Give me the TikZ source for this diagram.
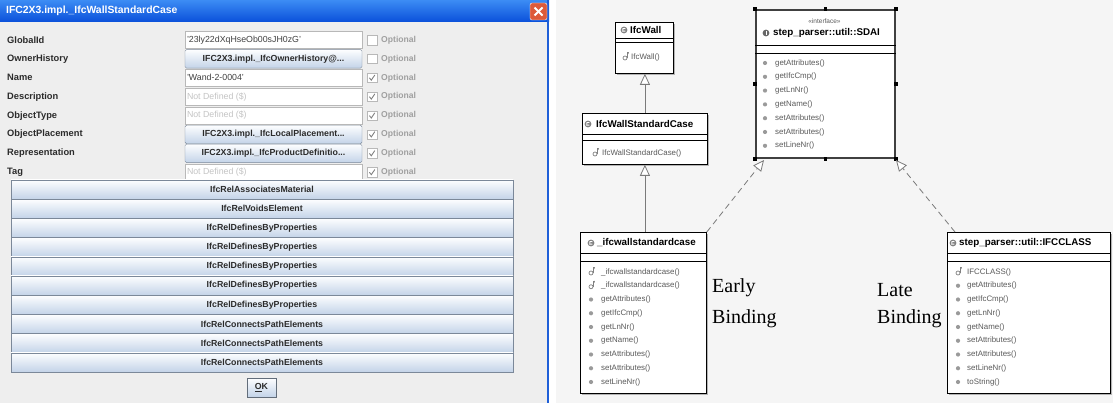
\documentclass[tikz,border=0pt]{standalone}
\usepackage{fontspec}
\setmainfont{Liberation Sans}
\newfontfamily\serifx{Liberation Serif}
\usetikzlibrary{arrows.meta,calc,shadows}
\definecolor{dlgbg}{HTML}{EEEEEE}
\definecolor{fldbd}{HTML}{B8B8B8}
\definecolor{btnbd}{HTML}{7B8899}
\definecolor{btntop}{HTML}{FDFEFF}
\definecolor{btnbot}{HTML}{C3D3E8}
\definecolor{lbltx}{HTML}{2B2B2B}
\definecolor{opttx}{HTML}{A0A0A0}
\definecolor{ndtx}{HTML}{C4C4C4}
\definecolor{titletop}{HTML}{3C8CF4}
\definecolor{titlebot}{HTML}{0A50DA}
\definecolor{xpblue}{HTML}{1F5FD8}
\definecolor{closered}{HTML}{DD5A3A}
\definecolor{rightbg}{HTML}{F5F5F5}
\definecolor{methtx}{HTML}{5A5A5A}
\definecolor{icongray}{HTML}{808080}
\definecolor{linegray}{HTML}{7A7A7A}
\tikzset{
  lbl/.style={anchor=west, inner sep=0, text=lbltx, font=\fontsize{9.3}{10}\selectfont\bfseries},
  fld/.style={draw=fldbd, fill=white, minimum width=177, minimum height=17, inner sep=0},
  fldtx/.style={anchor=west, inner sep=0, font=\fontsize{8.8}{10}\selectfont},
  fbtn/.style={draw=btnbd, rounded corners=1.5, top color=btntop, bottom color=btnbot, minimum width=177, minimum height=18.5, inner sep=0, text=lbltx, font=\fontsize{8.8}{10}\selectfont\bfseries},
  bigbtn/.style={draw=btnbd, top color=btntop, bottom color=btnbot, minimum width=502, minimum height=19.2, inner sep=0, text=lbltx, font=\fontsize{8.8}{10}\selectfont\bfseries},
  chk/.style={draw=fldbd, fill=white, minimum size=9.5, inner sep=0},
  opt/.style={anchor=west, inner sep=0, text=opttx, font=\fontsize{8.6}{10}\selectfont\bfseries},
  chkmark/.style={draw=gray, line width=0.9},
  umlbox/.style={draw=black, fill=white, line width=0.8, inner sep=0, anchor=north west, drop shadow={shadow xshift=1.5pt, shadow yshift=-1.5pt, fill=gray, opacity=0.55}},
  sdaibox/.style={draw=black!75, fill=white, line width=2, inner sep=0, anchor=north west},
  cname/.style={anchor=west, inner sep=0, font=\fontsize{9.8}{11}\selectfont\bfseries},
  meth/.style={anchor=west, inner sep=0, text=methtx, font=\fontsize{7.9}{9}\selectfont},
  gen/.style={draw=linegray, line width=0.8, -{Triangle[length=11pt, width=10pt, fill=white]}},
  gendash/.style={gen, dash pattern=on 6pt off 4pt},
  binding/.style={anchor=west, inner sep=0, font=\serifx\fontsize{20}{22}\selectfont},
  clsic/.pic={\fill[icongray] (0,0) circle (3.4); \draw[white, line width=0.9] (40:1.7) arc (40:320:1.7);},
  ific/.pic={\fill[icongray!80!black] (0,0) circle (3.4); \draw[white, line width=1] (0,-2) -- (0,2);},
  ctoric/.pic={\draw[icongray, line width=0.7] (0,1) circle (2); \draw[icongray, line width=0.7] (2,1.5) -- (2,-4.5); \draw[icongray, line width=0.6] (3.6,-4.8) -- (3.1,-3);},
  bul/.pic={\fill[icongray!80] (0,0) circle (2.1);},
  handle/.style={fill=black, minimum size=3.2, inner sep=0}
}
\begin{document}
\begin{tikzpicture}[x=1pt, y=-1pt]
\useasboundingbox (0,0) rectangle (1113,403);
\fill[white] (0,0) rectangle (1113,403);
% ---------------- dialog ----------------
\fill[rightbg] (556,0) rectangle (1113,403);
\fill[dlgbg] (0,22) rectangle (548,403);
\shade[top color=titletop, bottom color=titlebot] (0,0) rectangle (549,22);
\draw[xpblue, line width=2] (548,0) -- (548,403);
\node[anchor=west, inner sep=0, text=white, font=\fontsize{10.4}{11}\selectfont\bfseries] (title) at (6,11) {IFC2X3.impl.\_IfcWallStandardCase};
\node[draw=white, fill=closered, rounded corners=2, minimum width=17, minimum height=17, inner sep=0] (close) at (538.5,11.5) {};
\draw[white, line width=1.8] ([shift={(-4,-4)}]close.center) -- ([shift={(4,4)}]close.center);
\draw[white, line width=1.8] ([shift={(-4,4)}]close.center) -- ([shift={(4,-4)}]close.center);
% labels and checkboxes
\foreach \t [count=\i from 0] in {GlobalId,OwnerHistory,Name,Description,ObjectType,ObjectPlacement,Representation,Tag} {
  \node[lbl] (lbl\i) at (7,40+18.9*\i) {\t};
  \node[chk] (chk\i) at (372,40+18.9*\i) {};
  \node[opt] (opt\i) at (381,40+18.9*\i) {Optional};
}
\foreach \i in {2,...,7} {
  \draw[chkmark] ([shift={(-2.6,0)}]chk\i.center) -- ([shift={(-0.7,2.4)}]chk\i.center) -- ([shift={(2.8,-2.8)}]chk\i.center);
}
% values
\node[fld] (v0) at (273.5,40) {};
\node[fldtx, text=black!75] at ([xshift=2]v0.west) {'23ly22dXqHseOb00sJH0zG'};
\node[fbtn] (v1) at (273.5,58.9) {IFC2X3.impl.\_IfcOwnerHistory@...};
\node[fld] (v2) at (273.5,77.8) {};
\node[fldtx, text=black!75] at ([xshift=2]v2.west) {'Wand-2-0004'};
\node[fld] (v3) at (273.5,96.7) {};
\node[fldtx, text=ndtx] at ([xshift=2]v3.west) {Not Defined (\$)};
\node[fld] (v4) at (273.5,115.6) {};
\node[fldtx, text=ndtx] at ([xshift=2]v4.west) {Not Defined (\$)};
\node[fbtn] (v5) at (273.5,134.5) {IFC2X3.impl.\_IfcLocalPlacement...};
\node[fbtn] (v6) at (273.5,153.4) {IFC2X3.impl.\_IfcProductDefinitio...};
\node[fld] (v7) at (273.5,172.3) {};
\node[fldtx, text=ndtx] at ([xshift=2]v7.west) {Not Defined (\$)};
% big buttons
\foreach \t [count=\i from 0] in {IfcRelAssociatesMaterial,IfcRelVoidsElement,IfcRelDefinesByProperties,IfcRelDefinesByProperties,IfcRelDefinesByProperties,IfcRelDefinesByProperties,IfcRelDefinesByProperties,IfcRelConnectsPathElements,IfcRelConnectsPathElements,IfcRelConnectsPathElements} {
  \node[bigbtn] (bb\i) at (262,189.6+19.2*\i) {\t};
}
\node[draw=btnbd!80!black, line width=1, top color=btntop, bottom color=btnbot, minimum width=29, minimum height=19, inner sep=0, text=lbltx, font=\fontsize{8.8}{10}\selectfont\bfseries] (ok) at (261.5,387.5) {\underline{O}K};
% ---------------- UML ----------------
% IfcWall
\node[umlbox, minimum width=58, minimum height=51] (wall) at (615,22) {};
\draw ([yshift=-16]wall.north west) -- ([yshift=-16]wall.north east);
\draw ([yshift=-20]wall.north west) -- ([yshift=-20]wall.north east);
\pic at (624,30) {clsic};
\node[cname] (wallname) at (630,30) {IfcWall};
\pic at (625,57) {ctoric};
\node[meth] (wallm1) at (631,57) {IfcWall()};
% IfcWallStandardCase
\node[umlbox, minimum width=125, minimum height=51] (wsc) at (582,113) {};
\draw ([yshift=-21]wsc.north west) -- ([yshift=-21]wsc.north east);
\draw ([yshift=-27]wsc.north west) -- ([yshift=-27]wsc.north east);
\pic at (588,124) {clsic};
\node[cname] (wscname) at (596,124) {IfcWallStandardCase};
\pic at (595,153) {ctoric};
\node[meth] (wscm1) at (602,153) {IfcWallStandardCase()};
% SDAI interface
\node[sdaibox, minimum width=139, minimum height=148] (sdai) at (755,9) {};
\draw[line width=0.8] ([yshift=-36]sdai.north west) -- ([yshift=-36]sdai.north east);
\draw[line width=0.8] ([yshift=-44]sdai.north west) -- ([yshift=-44]sdai.north east);
\node[inner sep=0, text=methtx, font=\fontsize{6.5}{7}\selectfont] (stereo) at (824.5,21) {«interface»};
\pic at (766,33) {ific};
\node[cname] (sdainame) at (773,33) {step\_parser::util::SDAI};
\foreach \m [count=\i from 0] in {getAttributes(),getIfcCmp(),getLnNr(),getName(),setAttributes(),setAttributes(),setLineNr()} {
  \pic at (765,63+13.8*\i) {bul};
  \node[meth] (sdaim\i) at (775,63+13.8*\i) {\m};
}
\foreach \a in {north west,north,north east,east,south east,south,south west,west} {
  \node[handle] at (sdai.\a) {};
}
% _ifcwallstandardcase
\node[umlbox, minimum width=126, minimum height=161] (ifcw) at (580,232) {};
\draw ([yshift=-21]ifcw.north west) -- ([yshift=-21]ifcw.north east);
\draw ([yshift=-29]ifcw.north west) -- ([yshift=-29]ifcw.north east);
\pic at (591,243) {clsic};
\node[cname] (ifcwname) at (597,243) {\_ifcwallstandardcase};
\pic at (591,272) {ctoric};
\node[meth] (ifcwm0) at (601,272) {\_ifcwallstandardcase()};
\pic at (591,285.75) {ctoric};
\node[meth] (ifcwm1) at (601,285.75) {\_ifcwallstandardcase()};
\foreach \m [count=\i from 2] in {getAttributes(),getIfcCmp(),getLnNr(),getName(),setAttributes(),setAttributes(),setLineNr()} {
  \pic at (591,272+13.75*\i) {bul};
  \node[meth] (ifcwm\i) at (601,272+13.75*\i) {\m};
}
% IFCCLASS
\node[umlbox, minimum width=163, minimum height=161] (ifcc) at (947,232) {};
\draw ([yshift=-21]ifcc.north west) -- ([yshift=-21]ifcc.north east);
\draw ([yshift=-29]ifcc.north west) -- ([yshift=-29]ifcc.north east);
\pic at (953,243) {clsic};
\node[cname] (ifccname) at (959,243) {step\_parser::util::IFCCLASS};
\pic at (958,272) {ctoric};
\node[meth] (ifccm0) at (967,272) {IFCCLASS()};
\foreach \m [count=\i from 1] in {getAttributes(),getIfcCmp(),getLnNr(),getName(),setAttributes(),setAttributes(),setLineNr(),toString()} {
  \pic at (958,272+13.75*\i) {bul};
  \node[meth] (ifccm\i) at (967,272+13.75*\i) {\m};
}
% binding labels
\node[binding] (early) at (712,288) {Early};
\node[binding] (early2) at (712,319) {Binding};
\node[binding] (late) at (877,290) {Late};
\node[binding] (late2) at (877,319) {Binding};
% connectors
\draw[gen] (wsc.north) -- (wsc.north |- wall.south);
\draw[gen] (ifcw.north -| wsc.south) -- (wsc.south);
\coordinate (t1) at ($(sdai.south west)+(9,1)$);
\coordinate (t2) at ($(sdai.south east)+(0,1)$);
\coordinate (s2) at ($(ifcc.north west)+(8,0)$);
\draw[gendash] (ifcw.north east) -- (t1);
\draw[gendash] (s2) -- (t2);
\end{tikzpicture}
\end{document}
